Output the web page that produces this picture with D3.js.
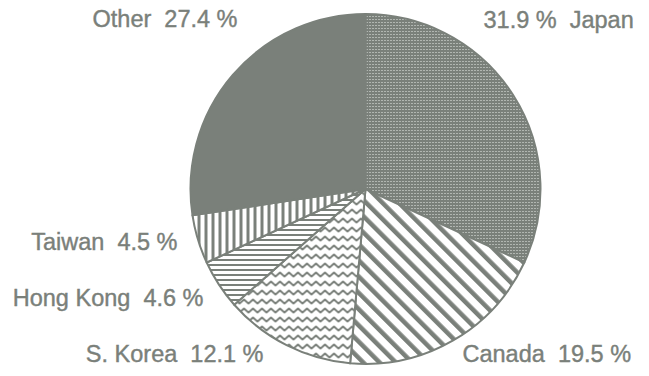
<!DOCTYPE html>
<html>
<head>
<meta charset="utf-8">
<script src="https://cdn.jsdelivr.net/npm/d3@7"></script>
<style>
  body { margin: 0; background: #fff; }
  text { font-family: "Liberation Sans", Arial, Helvetica, sans-serif; white-space: pre; }
</style>
</head>
<body>
<div class="container"></div>
<script>
const WIDTH = 649;
const HEIGHT = 376;
const GRAY = '#7a807a';

// data, clockwise from 12 o'clock
var countries = ['Japan', 'Canada', 'S. Korea', 'Hong Kong', 'Taiwan', 'Other'];
var shares = [31.9, 19.5, 12.1, 4.6, 4.5, 27.4];
var fills = ['url(#dots)', 'url(#diag)', 'url(#wave)', 'url(#hlines)', 'url(#vlines)', GRAY];

// label placement, relative to the pie centre
var labelLayout = [
    {dx: 118, dy: -161, anchor: 'start', pctFirst: true},
    {dx: 97, dy: 173, anchor: 'start'},
    {dx: -102, dy: 173, anchor: 'end'},
    {dx: -162, dy: 117, anchor: 'end'},
    {dx: -188, dy: 61, anchor: 'end'},
    {dx: -128, dy: -162, anchor: 'end'}
];

var translate = function(x, y) {
    return `translate(${x},${y})`;
};

var svg = d3.select('.container').append('svg')
    .attr('width', WIDTH)
    .attr('height', HEIGHT);

var defs = svg.append('defs');

var dots = defs.append('pattern').attr('id', 'dots')
    .attr('patternUnits', 'userSpaceOnUse').attr('width', 3).attr('height', 3);
dots.append('rect').attr('width', 3).attr('height', 3).attr('fill', GRAY);
dots.append('rect').attr('x', 1).attr('y', 1).attr('width', 1).attr('height', 1).attr('fill', '#e8ebe8');

var diag = defs.append('pattern').attr('id', 'diag')
    .attr('patternUnits', 'userSpaceOnUse').attr('width', 11.5).attr('height', 11.5)
    .attr('patternTransform', 'rotate(-45)');
diag.append('rect').attr('width', 11.5).attr('height', 11.5).attr('fill', '#fff');
diag.append('rect').attr('width', 4.5).attr('height', 11.5).attr('fill', GRAY);

var wave = defs.append('pattern').attr('id', 'wave')
    .attr('patternUnits', 'userSpaceOnUse').attr('width', 9).attr('height', 9);
wave.append('rect').attr('width', 9).attr('height', 9).attr('fill', '#fff');
wave.append('path').attr('d', 'M-2.25,4 L0,6.5 L4.5,2.5 L9,6.5 L11.25,4')
    .attr('fill', 'none').attr('stroke', GRAY).attr('stroke-width', 2)
    .attr('stroke-linejoin', 'round');

var hlines = defs.append('pattern').attr('id', 'hlines')
    .attr('patternUnits', 'userSpaceOnUse').attr('width', 5).attr('height', 5);
hlines.append('rect').attr('width', 5).attr('height', 5).attr('fill', '#fff');
hlines.append('rect').attr('width', 5).attr('height', 2).attr('fill', GRAY);

var vlines = defs.append('pattern').attr('id', 'vlines')
    .attr('patternUnits', 'userSpaceOnUse').attr('width', 7).attr('height', 7);
vlines.append('rect').attr('width', 7).attr('height', 7).attr('fill', '#fff');
vlines.append('rect').attr('width', 3).attr('height', 7).attr('fill', GRAY);

var cx = 365.5, cy = 189, radius = 175;

var pie = d3.pie().sort(null).value((d) => d);
var arc = d3.arc().innerRadius(0).outerRadius(radius);
var arcs = pie(shares);

var g = svg.append('g').attr('transform', translate(cx, cy));

g.selectAll('path.slice').data(arcs).enter()
    .append('path')
    .classed('slice', true)
    .attr('d', arc)
    .attr('fill', (d, i) => fills[i])
    .attr('stroke', GRAY)
    .attr('stroke-width', 2)
    .attr('stroke-linejoin', 'round');

g.selectAll('text.label').data(arcs).enter()
    .append('text')
    .classed('label', true)
    .attr('x', (d, i) => labelLayout[i].dx)
    .attr('y', (d, i) => labelLayout[i].dy)
    .attr('text-anchor', (d, i) => labelLayout[i].anchor)
    .attr('fill', GRAY)
    .attr('stroke', GRAY)
    .attr('stroke-width', 0.4)
    .style('font-size', '23.5px')
    .text((d, i) => labelLayout[i].pctFirst
        ? `${shares[i].toFixed(1)} %  ${countries[i]}`
        : `${countries[i]}  ${shares[i].toFixed(1)} %`);
</script>
</body>
</html>
